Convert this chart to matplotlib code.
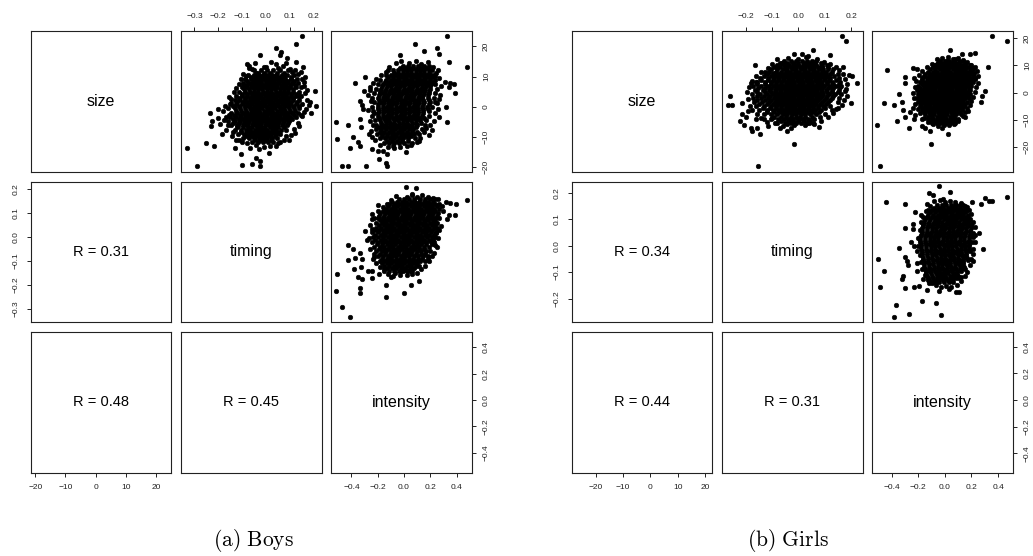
import matplotlib.pyplot as plt

plt.rcParams['font.family'] = ['Liberation Sans', 'DejaVu Sans']
plt.rcParams['mathtext.fontset'] = 'cm'

variables = ["size", "timing", "intensity"]

# R values shown in the lower panels: (timing,size), (intensity,size), (intensity,timing)
boys_corr = [0.31, 0.48, 0.45]
girls_corr = [0.34, 0.44, 0.31]

size_ticks = [-20, -10, 0, 10, 20]
boys_timing_ticks = [-0.3, -0.2, -0.1, 0.0, 0.1, 0.2]
girls_timing_ticks = [-0.2, -0.1, 0.0, 0.1, 0.2]
intensity_ticks = [-0.4, -0.2, 0.0, 0.2, 0.4]

# axis ranges
boys_lims = [(-21.5, 25.1), (-0.356, 0.233), (-0.552, 0.517)]
girls_lims = [(-28.9, 22.6), (-0.289, 0.242), (-0.545, 0.512)]

# ---------------- boys: timing (x) vs size (y) ----------------
boys_ts_edge = [(0.149,23.5),(0.124,20.7),(0.040,19.3),(0.063,18.0),(0.057,17.3),(-0.024,17.3),(0.127,14.9),
    (0.155,13.3),(-0.079,14.0),(-0.071,12.9),(0.205,5.1),(0.211,0.2),(0.180,0.4),(-0.146,2.4),(-0.148,1.1),
    (-0.202,-0.7),(-0.233,-2.2),(-0.225,-4.9),(-0.230,-6.5),(-0.191,-5.8),(-0.250,-12.2),(-0.216,-12.9),
    (-0.333,-13.8),(-0.291,-19.8),(-0.105,-15.8),(-0.099,-19.3),(-0.060,-19.1),(-0.024,-19.6),(-0.024,-18.0),
    (-0.043,-17.1),(0.013,-15.3),(-0.029,-14.2),(-0.066,-13.8),(-0.132,-13.6),(0.049,-12.0),(0.085,-9.8),
    (0.096,-10.9),(0.116,-7.3),(-0.169,-3.3),(-0.155,-2.9),(-0.166,-7.6),(-0.141,-9.6),(-0.113,-10.9),
    (-0.116,-6.5),(0.152,9.1),(0.160,6.9),(0.138,3.5),(0.152,-3.1),(0.133,-5.3),(0.110,-4.2),(0.166,-0.9),
    (-0.085,10.2),(-0.091,6.9),(-0.043,11.3),(0.001,13.3),(0.040,14.0),(0.085,14.4),(0.110,11.5),(0.133,10.7)]
boys_ts_halo = [(-0.07,13.6),(-0.045,14.5),(-0.01,13.2),(0.02,14.8),(0.05,12.9),(0.07,13.6),(0.1,12.6),
    (0.12,12.2),(0.145,11.6),(0.165,9.8),(0.16,8.2),(0.172,5.6),(0.162,4.4),(0.17,2.3),(0.185,1.6),(0.158,-1.8),
    (0.145,-2.6),(0.14,-6.4),(0.12,-8.6),(0.105,-9.4),(0.075,-11.2),(0.06,-11.8),(0.04,-13.0),(0.015,-13.2),
    (-0.01,-13.4),(-0.04,-12.6),(-0.08,-12.2),(-0.1,-11.8),(-0.125,-10.9),(-0.14,-8.4),(-0.16,-6.0),
    (-0.175,-4.4),(-0.18,-1.5),(-0.17,0.2),(-0.155,3.2),(-0.135,4.8),(-0.125,6.2),(-0.115,7.6),(-0.105,9.2),
    (-0.095,11.0),(-0.06,12.6),(-0.185,-9.0),(-0.2,-3.6),(0.19,-2.0),(0.09,16.0)]
boys_ts_core = [
    (12.0, [-0.05, -0.02, 0.005, 0.03, 0.06, 0.094]),
    (10.6, [-0.075, -0.05, -0.03, -0.012, 0.006, 0.024, 0.042, 0.065, 0.09, 0.118]),
    (9.2, [-0.09, -0.065, -0.045, -0.028, -0.01, 0.008, 0.026, 0.044, 0.062, 0.08, 0.105, 0.13]),
    (7.8, [-0.095, -0.072, -0.055, -0.037, -0.02, -0.002, 0.016, 0.034, 0.052, 0.07, 0.088, 0.11, 0.135]),
    (6.4, [-0.1, -0.078, -0.06, -0.042, -0.024, -0.006, 0.012, 0.03, 0.048, 0.066, 0.084, 0.102, 0.125, 0.148]),
    (5.0, [-0.112, -0.088, -0.068, -0.05, -0.032, -0.014, 0.004, 0.022, 0.04, 0.058, 0.076, 0.094, 0.115, 0.138]),
    (3.6, [-0.125, -0.1, -0.078, -0.06, -0.042, -0.024, -0.006, 0.012, 0.03, 0.048, 0.066, 0.084, 0.104, 0.126, 0.145]),
    (2.2, [-0.132, -0.108, -0.088, -0.068, -0.05, -0.032, -0.014, 0.004, 0.022, 0.04, 0.058, 0.076, 0.094, 0.115, 0.14]),
    (0.8, [-0.15, -0.125, -0.1, -0.08, -0.061, -0.043, -0.025, -0.007, 0.011, 0.029, 0.047, 0.065, 0.083, 0.102, 0.124, 0.15]),
    (-0.6, [-0.16, -0.132, -0.108, -0.088, -0.069, -0.051, -0.033, -0.015, 0.003, 0.021, 0.039, 0.057, 0.075, 0.095, 0.118, 0.14]),
    (-2.0, [-0.145, -0.12, -0.098, -0.078, -0.06, -0.042, -0.024, -0.006, 0.012, 0.03, 0.048, 0.066, 0.086, 0.108, 0.132]),
    (-3.4, [-0.15, -0.126, -0.104, -0.085, -0.066, -0.048, -0.03, -0.012, 0.006, 0.024, 0.042, 0.06, 0.08, 0.1, 0.125]),
    (-4.8, [-0.158, -0.13, -0.108, -0.088, -0.07, -0.052, -0.034, -0.016, 0.002, 0.02, 0.038, 0.056, 0.076, 0.098]),
    (-6.2, [-0.145, -0.12, -0.098, -0.078, -0.06, -0.042, -0.024, -0.006, 0.012, 0.03, 0.048, 0.068, 0.09]),
    (-7.6, [-0.13, -0.106, -0.085, -0.066, -0.048, -0.03, -0.012, 0.006, 0.024, 0.042, 0.062, 0.085]),
    (-9.0, [-0.118, -0.092, -0.07, -0.05, -0.032, -0.014, 0.004, 0.022, 0.04, 0.06]),
    (-10.4, [-0.095, -0.07, -0.05, -0.03, -0.012, 0.006, 0.026, 0.048]),
    (-11.8, [-0.06, -0.035, -0.012, 0.01, 0.03])]
boys_ts_inner = [
    (11.3, [-0.035, -0.008, 0.018, 0.045, 0.077]),
    (9.9, [-0.062, -0.04, -0.021, -0.003, 0.015, 0.033, 0.053, 0.077, 0.104]),
    (8.5, [-0.08, -0.055, -0.036, -0.019, -0.001, 0.017, 0.035, 0.053, 0.071, 0.092, 0.118]),
    (7.1, [-0.086, -0.064, -0.046, -0.028, -0.011, 0.007, 0.025, 0.043, 0.061, 0.079, 0.099, 0.122]),
    (5.7, [-0.094, -0.07, -0.051, -0.033, -0.015, 0.003, 0.021, 0.039, 0.057, 0.075, 0.093, 0.113]),
    (4.3, [-0.1, -0.078, -0.059, -0.041, -0.023, -0.005, 0.013, 0.031, 0.049, 0.067, 0.085, 0.105, 0.126]),
    (2.9, [-0.112, -0.089, -0.069, -0.051, -0.033, -0.015, 0.003, 0.021, 0.039, 0.057, 0.075, 0.094, 0.115]),
    (1.5, [-0.12, -0.098, -0.078, -0.059, -0.041, -0.023, -0.005, 0.013, 0.031, 0.049, 0.067, 0.085, 0.104, 0.128]),
    (0.1, [-0.138, -0.112, -0.09, -0.07, -0.052, -0.034, -0.016, 0.002, 0.02, 0.038, 0.056, 0.074, 0.092, 0.113, 0.137]),
    (-1.3, [-0.126, -0.103, -0.083, -0.064, -0.046, -0.028, -0.01, 0.008, 0.026, 0.044, 0.062, 0.08, 0.1, 0.122]),
    (-2.7, [-0.135, -0.11, -0.09, -0.071, -0.053, -0.035, -0.017, 0.001, 0.019, 0.037, 0.055, 0.074, 0.094, 0.116]),
    (-4.1, [-0.14, -0.115, -0.095, -0.076, -0.058, -0.04, -0.022, -0.004, 0.014, 0.032, 0.05, 0.068, 0.088]),
    (-5.5, [-0.138, -0.114, -0.093, -0.074, -0.056, -0.038, -0.02, -0.002, 0.016, 0.034, 0.052, 0.072, 0.094]),
    (-6.9, [-0.12, -0.096, -0.075, -0.057, -0.039, -0.021, -0.003, 0.015, 0.033, 0.052, 0.074]),
    (-8.3, [-0.105, -0.081, -0.06, -0.041, -0.023, -0.005, 0.013, 0.031, 0.05]),
    (-9.7, [-0.082, -0.06, -0.04, -0.021, -0.003, 0.016, 0.037]),
    (-11.1, [-0.048, -0.024, -0.001, 0.02])]

# ---------------- boys: intensity (x) vs size (y) ----------------
boys_is_edge = [(0.324,23.5),(0.085,20.7),(0.253,19.3),(0.268,17.5),(0.151,18.4),(-0.031,17.3),(0.339,14.9),
    (0.476,13.3),(-0.123,12.2),(-0.295,9.8),(-0.372,7.8),(-0.255,6.4),(-0.306,5.3),(0.314,8.2),(0.349,7.8),
    (0.380,7.5),(0.344,6.4),(0.390,4.7),(-0.336,2.0),(-0.321,0.7),(-0.311,-0.9),(-0.514,-5.1),(-0.422,-6.0),
    (-0.336,-4.0),(-0.326,-6.9),(-0.509,-10.7),(-0.387,-10.0),(-0.351,-11.6),(-0.331,-12.9),(-0.407,-13.8),
    (-0.473,-19.8),(-0.422,-19.6),(-0.285,-19.6),(-0.240,-14.0),(-0.189,-17.3),(-0.128,-15.8),(-0.133,-18.7),
    (-0.128,-19.6),(-0.072,-13.6),(0.014,-15.1),(0.111,-11.3),(0.187,-9.3),(0.217,-7.8),(0.324,-5.1),
    (0.268,-3.3),(0.319,-0.2),(0.248,1.1),(0.237,10.2),(0.247,11.3),(-0.250,1.8),(-0.230,-2.2),(-0.265,-9.1),
    (-0.235,-6.2)]
boys_is_halo = [(-0.06,14.6),(-0.02,15.2),(0.04,14.4),(0.09,15.0),(0.13,14.2),(0.18,14.8),(0.22,13.0),
    (0.26,12.2),(0.27,9.5),(0.285,6.8),(0.275,4.0),(0.265,2.6),(0.26,-0.8),(0.24,-2.0),(0.225,-4.6),(0.2,-6.0),
    (0.17,-7.2),(0.155,-8.4),(0.12,-10.5),(0.1,-11.6),(0.05,-12.8),(0.02,-13.2),(-0.03,-13.4),(-0.08,-13.1),
    (-0.12,-13.5),(-0.18,-12.6),(-0.22,-11.2),(-0.245,-10.2),(-0.25,-8.2),(-0.26,-4.6),(-0.27,-1.0),(-0.27,3.8),
    (-0.26,5.4),(-0.235,7.8),(-0.215,9.2),(-0.175,10.6),(-0.14,11.6),(-0.11,13.0),(-0.2,-14.6),(-0.16,-14.8)]
boys_is_core = [
    (13.5, [-0.01, 0.03, 0.07, 0.11, 0.15, 0.19]),
    (12.0, [-0.085, -0.045, -0.01, 0.022, 0.055, 0.088, 0.12, 0.155, 0.19, 0.215]),
    (10.5, [-0.135, -0.095, -0.06, -0.027, 0.006, 0.039, 0.072, 0.105, 0.138, 0.172, 0.205, 0.23]),
    (9.0, [-0.185, -0.14, -0.102, -0.068, -0.035, -0.002, 0.031, 0.064, 0.097, 0.13, 0.163, 0.196, 0.24]),
    (7.5, [-0.2, -0.16, -0.124, -0.09, -0.057, -0.024, 0.009, 0.042, 0.075, 0.108, 0.141, 0.174, 0.207, 0.24]),
    (6.0, [-0.212, -0.172, -0.136, -0.102, -0.069, -0.036, -0.003, 0.03, 0.063, 0.096, 0.129, 0.162, 0.198, 0.25]),
    (4.5, [-0.225, -0.185, -0.148, -0.114, -0.081, -0.048, -0.015, 0.018, 0.051, 0.084, 0.117, 0.15, 0.19, 0.24]),
    (3.0, [-0.24, -0.198, -0.16, -0.126, -0.093, -0.06, -0.027, 0.006, 0.039, 0.072, 0.105, 0.14, 0.18, 0.228]),
    (1.5, [-0.225, -0.185, -0.15, -0.116, -0.083, -0.05, -0.017, 0.016, 0.049, 0.082, 0.115, 0.152, 0.2, 0.24]),
    (0.0, [-0.24, -0.2, -0.163, -0.13, -0.097, -0.064, -0.031, 0.002, 0.035, 0.068, 0.101, 0.136, 0.175, 0.215]),
    (-1.5, [-0.235, -0.192, -0.155, -0.121, -0.088, -0.055, -0.022, 0.011, 0.044, 0.077, 0.11, 0.148, 0.19]),
    (-3.0, [-0.24, -0.2, -0.162, -0.128, -0.095, -0.062, -0.029, 0.004, 0.037, 0.07, 0.103, 0.14, 0.19]),
    (-4.5, [-0.22, -0.18, -0.144, -0.11, -0.077, -0.044, -0.011, 0.022, 0.055, 0.088, 0.125, 0.17]),
    (-6.0, [-0.21, -0.17, -0.134, -0.1, -0.067, -0.034, -0.001, 0.032, 0.065, 0.1, 0.16]),
    (-7.5, [-0.212, -0.172, -0.135, -0.1, -0.066, -0.032, 0.002, 0.036, 0.072, 0.14]),
    (-9.0, [-0.205, -0.165, -0.128, -0.094, -0.06, -0.026, 0.008, 0.042, 0.08, 0.115]),
    (-10.5, [-0.185, -0.145, -0.108, -0.074, -0.04, -0.006, 0.03, 0.085]),
    (-12.0, [-0.15, -0.11, -0.072, -0.036, 0.0, 0.06])]
boys_is_inner = [
    (12.75, [-0.03, 0.006, 0.04, 0.072, 0.105, 0.14, 0.17]),
    (11.25, [-0.078, -0.043, -0.01, 0.022, 0.055, 0.088, 0.121, 0.155, 0.19]),
    (9.75, [-0.12, -0.081, -0.048, -0.015, 0.018, 0.051, 0.084, 0.117, 0.15, 0.184, 0.215]),
    (8.25, [-0.142, -0.113, -0.079, -0.046, -0.013, 0.02, 0.053, 0.086, 0.119, 0.152, 0.185, 0.218]),
    (6.75, [-0.166, -0.13, -0.096, -0.063, -0.03, 0.003, 0.036, 0.069, 0.102, 0.135, 0.168, 0.2]),
    (5.25, [-0.18, -0.142, -0.108, -0.075, -0.042, -0.009, 0.024, 0.057, 0.09, 0.123, 0.156, 0.194]),
    (3.75, [-0.19, -0.154, -0.12, -0.087, -0.054, -0.021, 0.012, 0.045, 0.078, 0.111, 0.145, 0.185]),
    (2.25, [-0.19, -0.155, -0.121, -0.088, -0.055, -0.022, 0.011, 0.044, 0.077, 0.11, 0.146, 0.19]),
    (0.75, [-0.2, -0.157, -0.123, -0.09, -0.057, -0.024, 0.009, 0.042, 0.075, 0.108, 0.144, 0.187]),
    (-0.75, [-0.196, -0.159, -0.125, -0.092, -0.059, -0.026, 0.007, 0.04, 0.073, 0.106, 0.142, 0.18]),
    (-2.25, [-0.196, -0.158, -0.124, -0.091, -0.058, -0.025, 0.008, 0.041, 0.074, 0.107, 0.144]),
    (-3.75, [-0.19, -0.153, -0.119, -0.086, -0.053, -0.02, 0.013, 0.046, 0.079, 0.114, 0.155]),
    (-5.25, [-0.175, -0.139, -0.105, -0.072, -0.039, -0.006, 0.027, 0.06, 0.094, 0.13]),
    (-6.75, [-0.19, -0.152, -0.117, -0.083, -0.05, -0.016, 0.018, 0.054, 0.09]),
    (-8.25, [-0.185, -0.15, -0.115, -0.08, -0.046, -0.012, 0.022, 0.06, 0.1]),
    (-9.75, [-0.165, -0.126, -0.091, -0.057, -0.023, 0.012, 0.055]),
    (-11.25, [-0.128, -0.09, -0.054, -0.018, 0.03])]

# ---------------- boys: intensity (x) vs timing (y) ----------------
boys_it_edge = [(0.014,0.211),(0.090,0.206),(0.065,0.181),(0.476,0.155),(0.319,0.147),(0.349,0.144),(0.395,0.141),
    (0.339,0.091),(0.385,0.094),(0.324,0.077),(-0.240,0.097),(-0.245,0.075),(-0.163,0.066),(-0.097,0.102),
    (-0.295,0.024),(-0.245,0.036),(-0.422,-0.031),(-0.387,-0.051),(-0.336,-0.065),(-0.422,-0.096),(-0.372,-0.087),
    (-0.316,-0.093),(-0.326,-0.123),(-0.382,-0.132),(-0.270,-0.140),(-0.351,-0.168),(-0.321,-0.174),
    (-0.240,-0.143),(-0.245,-0.171),(-0.189,-0.154),(-0.153,-0.135),(-0.509,-0.154),(-0.514,-0.224),
    (-0.331,-0.213),(-0.336,-0.235),(-0.473,-0.291),(-0.407,-0.333),(-0.138,-0.199),(-0.133,-0.249),
    (0.004,-0.232),(0.055,-0.202),(0.116,-0.185),(-0.097,-0.168),(-0.087,-0.163),(-0.021,-0.143),(0.026,-0.140),
    (0.050,-0.143),(0.237,0.072),(0.247,0.019),(0.233,-0.031),(0.182,-0.087),(-0.229,-0.082),(-0.234,-0.093)]
boys_it_halo = [(-0.06,0.172),(0.02,0.17),(0.06,0.176),(0.1,0.168),(0.14,0.175),(0.18,0.17),(0.22,0.165),
    (0.26,0.16),(0.29,0.13),(0.3,0.11),(0.28,0.045),(0.27,0.03),(0.26,-0.005),(0.25,-0.04),(0.23,-0.065),
    (0.215,-0.08),(0.19,-0.1),(0.16,-0.12),(0.13,-0.135),(0.1,-0.15),(0.06,-0.155),(0.02,-0.16),(-0.03,-0.158),
    (-0.07,-0.15),(-0.12,-0.155),(-0.15,-0.14),(-0.18,-0.125),(-0.21,-0.11),(-0.23,-0.07),(-0.26,-0.05),
    (-0.265,-0.005),(-0.26,0.05),(-0.225,0.08),(-0.2,0.11),(-0.16,0.125),(-0.13,0.14),(-0.1,0.155),(-0.2,0.135),
    (-0.28,-0.01)]
boys_it_core = [
    (0.158, [-0.035, 0.0, 0.04, 0.08, 0.12, 0.16, 0.2, 0.24]),
    (0.139, [-0.11, -0.07, -0.034, 0.0, 0.033, 0.066, 0.099, 0.132, 0.165, 0.2, 0.24, 0.268]),
    (0.119, [-0.138, -0.1, -0.066, -0.033, 0.0, 0.033, 0.066, 0.099, 0.132, 0.165, 0.198, 0.232, 0.265]),
    (0.100, [-0.185, -0.145, -0.11, -0.077, -0.044, -0.011, 0.022, 0.055, 0.088, 0.121, 0.154, 0.187, 0.22, 0.26]),
    (0.080, [-0.2, -0.16, -0.124, -0.091, -0.058, -0.025, 0.008, 0.041, 0.074, 0.107, 0.14, 0.173, 0.206, 0.24, 0.268]),
    (0.060, [-0.21, -0.17, -0.134, -0.101, -0.068, -0.035, -0.002, 0.031, 0.064, 0.097, 0.13, 0.163, 0.196, 0.23, 0.255]),
    (0.040, [-0.214, -0.175, -0.14, -0.107, -0.074, -0.041, -0.008, 0.025, 0.058, 0.091, 0.124, 0.157, 0.19, 0.225, 0.255]),
    (0.020, [-0.24, -0.2, -0.162, -0.128, -0.095, -0.062, -0.029, 0.004, 0.037, 0.07, 0.103, 0.136, 0.169, 0.205, 0.243]),
    (0.000, [-0.235, -0.195, -0.158, -0.124, -0.091, -0.058, -0.025, 0.008, 0.041, 0.074, 0.107, 0.14, 0.175, 0.21, 0.24]),
    (-0.020, [-0.24, -0.2, -0.163, -0.129, -0.096, -0.063, -0.03, 0.003, 0.036, 0.069, 0.102, 0.135, 0.17, 0.205, 0.23]),
    (-0.040, [-0.225, -0.185, -0.149, -0.115, -0.082, -0.049, -0.016, 0.017, 0.05, 0.083, 0.116, 0.15, 0.19]),
    (-0.060, [-0.21, -0.17, -0.135, -0.102, -0.069, -0.036, -0.003, 0.03, 0.063, 0.096, 0.13, 0.17, 0.2]),
    (-0.080, [-0.2, -0.16, -0.124, -0.091, -0.058, -0.025, 0.008, 0.041, 0.074, 0.108, 0.145, 0.18]),
    (-0.100, [-0.185, -0.148, -0.113, -0.08, -0.047, -0.014, 0.019, 0.052, 0.085, 0.12, 0.16]),
    (-0.120, [-0.15, -0.112, -0.078, -0.045, -0.012, 0.021, 0.055, 0.09, 0.116]),
    (-0.140, [-0.11, -0.072, -0.038, -0.004, 0.03, 0.065])]
boys_it_inner = [
    (0.149, [-0.09, -0.052, -0.017, 0.017, 0.05, 0.083, 0.116, 0.15, 0.182, 0.22]),
    (0.129, [-0.12, -0.085, -0.05, -0.017, 0.017, 0.05, 0.083, 0.116, 0.149, 0.182, 0.215, 0.25]),
    (0.109, [-0.16, -0.122, -0.088, -0.055, -0.022, 0.011, 0.044, 0.077, 0.11, 0.143, 0.176, 0.21, 0.24]),
    (0.090, [-0.19, -0.152, -0.117, -0.084, -0.051, -0.018, 0.015, 0.048, 0.081, 0.114, 0.147, 0.18, 0.213, 0.25]),
    (0.070, [-0.185, -0.147, -0.113, -0.08, -0.047, -0.014, 0.019, 0.052, 0.085, 0.118, 0.151, 0.184, 0.218]),
    (0.050, [-0.192, -0.155, -0.121, -0.088, -0.055, -0.022, 0.011, 0.044, 0.077, 0.11, 0.143, 0.176, 0.21, 0.24]),
    (0.030, [-0.22, -0.188, -0.151, -0.118, -0.085, -0.052, -0.019, 0.014, 0.047, 0.08, 0.113, 0.146, 0.18, 0.215]),
    (0.010, [-0.218, -0.178, -0.142, -0.109, -0.076, -0.043, -0.01, 0.023, 0.056, 0.089, 0.122, 0.157, 0.19, 0.225]),
    (-0.010, [-0.218, -0.178, -0.142, -0.109, -0.076, -0.043, -0.01, 0.023, 0.056, 0.089, 0.122, 0.155, 0.19, 0.218]),
    (-0.030, [-0.205, -0.168, -0.132, -0.098, -0.065, -0.032, 0.001, 0.034, 0.067, 0.1, 0.133, 0.17, 0.21]),
    (-0.050, [-0.19, -0.152, -0.118, -0.085, -0.052, -0.019, 0.014, 0.047, 0.08, 0.113, 0.15]),
    (-0.070, [-0.18, -0.142, -0.108, -0.075, -0.042, -0.009, 0.024, 0.057, 0.091, 0.126, 0.16]),
    (-0.090, [-0.166, -0.13, -0.096, -0.063, -0.03, 0.003, 0.036, 0.07, 0.104, 0.14]),
    (-0.110, [-0.165, -0.13, -0.095, -0.062, -0.029, 0.004, 0.037, 0.072, 0.1]),
    (-0.130, [-0.13, -0.093, -0.06, -0.025, 0.01, 0.045, 0.08])]

# ---------------- girls: timing (x) vs size (y) ----------------
girls_ts_edge = [(0.164,20.8),(0.181,18.8),(0.056,15.6),(-0.017,14.2),(0.013,14.2),(0.036,13.4),(0.119,13.9),
    (-0.165,10.0),(-0.062,11.0),(-0.095,7.3),(-0.125,7.6),(0.169,9.3),(0.191,6.3),(0.201,6.1),(0.221,3.7),
    (0.176,0.5),(-0.175,4.1),(-0.162,3.9),(-0.260,-1.2),(-0.268,-4.7),(-0.253,-4.7),(-0.212,-3.7),(-0.212,-7.8),
    (-0.222,-10.5),(-0.205,-12.0),(-0.180,-13.0),(-0.177,-14.2),(-0.157,-13.0),(-0.145,-15.2),(-0.160,-9.5),
    (-0.132,-9.8),(-0.069,-13.0),(-0.059,-12.2),(-0.027,-13.0),(-0.042,-14.2),(-0.017,-18.8),(-0.152,-26.9),
    (0.076,-12.7),(0.081,-9.1),(0.149,-5.6),(0.197,-3.7),(0.156,1.9),(0.001,-9.8),(0.038,-11.0),(-0.100,-9.3),
    (-0.114,-12.2)]
girls_ts_halo = [(-0.08,12.2),(-0.04,12.8),(0.0,12.3),(0.03,13.0),(0.07,12.2),(0.095,11.4),(0.12,10.4),
    (0.14,9.4),(0.155,8.2),(0.168,6.8),(0.175,5.0),(0.182,3.0),(0.178,1.2),(0.185,-1.2),(0.172,-2.8),(0.165,-4.4),
    (0.14,-6.0),(0.13,-7.6),(0.11,-8.8),(0.085,-10.4),(0.06,-11.4),(0.025,-12.0),(-0.015,-11.8),(-0.045,-11.6),
    (-0.09,-11.2),(-0.12,-10.6),(-0.14,-9.2),(-0.158,-8.0),(-0.175,-6.4),(-0.185,-4.8),(-0.19,-2.4),(-0.195,0.2),
    (-0.188,2.0),(-0.18,3.4),(-0.16,6.0),(-0.14,7.4),(-0.115,9.0),(-0.1,10.4),(-0.19,-6.8),(-0.2,-9.0)]
girls_ts_core = [
    (11.5, [-0.055, -0.03, -0.008, 0.012, 0.032, 0.052, 0.068]),
    (10.0, [-0.08, -0.055, -0.035, -0.017, 0.0, 0.017, 0.034, 0.051, 0.068, 0.088, 0.106]),
    (8.5, [-0.105, -0.08, -0.06, -0.042, -0.025, -0.008, 0.009, 0.026, 0.043, 0.06, 0.077, 0.094, 0.112, 0.131]),
    (7.0, [-0.118, -0.092, -0.072, -0.054, -0.037, -0.02, -0.003, 0.014, 0.031, 0.048, 0.065, 0.082, 0.099, 0.118, 0.15]),
    (5.5, [-0.145, -0.115, -0.092, -0.072, -0.054, -0.037, -0.02, -0.003, 0.014, 0.031, 0.048, 0.065, 0.082, 0.1, 0.12, 0.155]),
    (4.0, [-0.155, -0.128, -0.105, -0.085, -0.066, -0.049, -0.032, -0.015, 0.002, 0.019, 0.036, 0.053, 0.07, 0.087, 0.106, 0.128, 0.156]),
    (2.5, [-0.17, -0.14, -0.115, -0.094, -0.075, -0.057, -0.04, -0.023, -0.006, 0.011, 0.028, 0.045, 0.062, 0.079, 0.097, 0.118, 0.14, 0.162]),
    (1.0, [-0.165, -0.135, -0.11, -0.089, -0.07, -0.052, -0.035, -0.018, -0.001, 0.016, 0.033, 0.05, 0.067, 0.084, 0.103, 0.125, 0.155]),
    (-0.5, [-0.175, -0.145, -0.12, -0.098, -0.078, -0.06, -0.043, -0.026, -0.009, 0.008, 0.025, 0.042, 0.059, 0.076, 0.094, 0.114, 0.137, 0.162]),
    (-2.0, [-0.17, -0.14, -0.114, -0.092, -0.072, -0.054, -0.037, -0.02, -0.003, 0.014, 0.031, 0.048, 0.065, 0.083, 0.103, 0.127, 0.155]),
    (-3.5, [-0.168, -0.138, -0.112, -0.09, -0.07, -0.052, -0.035, -0.018, -0.001, 0.016, 0.033, 0.05, 0.068, 0.088, 0.11, 0.15]),
    (-5.0, [-0.16, -0.13, -0.105, -0.084, -0.065, -0.047, -0.03, -0.013, 0.004, 0.021, 0.038, 0.055, 0.073, 0.094, 0.12]),
    (-6.5, [-0.15, -0.12, -0.096, -0.076, -0.058, -0.04, -0.023, -0.006, 0.011, 0.028, 0.045, 0.063, 0.085, 0.125]),
    (-8.0, [-0.13, -0.102, -0.08, -0.06, -0.042, -0.025, -0.008, 0.009, 0.026, 0.044, 0.065, 0.1]),
    (-9.5, [-0.105, -0.078, -0.056, -0.037, -0.019, -0.002, 0.016, 0.035, 0.06]),
    (-11.0, [-0.08, -0.052, -0.03, -0.01, 0.01, 0.032, 0.055])]
girls_ts_inner = [
    (10.75, [-0.068, -0.045, -0.022, 0.0, 0.022, 0.042, 0.06, 0.085]),
    (9.25, [-0.092, -0.068, -0.047, -0.029, -0.012, 0.005, 0.022, 0.039, 0.056, 0.073, 0.09, 0.11]),
    (7.75, [-0.11, -0.086, -0.066, -0.048, -0.031, -0.014, 0.003, 0.02, 0.037, 0.054, 0.071, 0.088, 0.105, 0.125]),
    (6.25, [-0.13, -0.104, -0.082, -0.063, -0.046, -0.029, -0.012, 0.005, 0.022, 0.039, 0.056, 0.073, 0.09, 0.109, 0.135]),
    (4.75, [-0.14, -0.116, -0.095, -0.076, -0.058, -0.041, -0.024, -0.007, 0.01, 0.027, 0.044, 0.061, 0.078, 0.096, 0.116, 0.14]),
    (3.25, [-0.155, -0.128, -0.105, -0.085, -0.066, -0.049, -0.032, -0.015, 0.002, 0.019, 0.036, 0.053, 0.07, 0.088, 0.107, 0.129, 0.152]),
    (1.75, [-0.152, -0.125, -0.102, -0.082, -0.063, -0.046, -0.029, -0.012, 0.005, 0.022, 0.039, 0.056, 0.073, 0.09, 0.11, 0.13]),
    (0.25, [-0.155, -0.128, -0.105, -0.085, -0.066, -0.049, -0.032, -0.015, 0.002, 0.019, 0.036, 0.053, 0.07, 0.088, 0.106, 0.128, 0.15]),
    (-1.25, [-0.158, -0.13, -0.106, -0.085, -0.066, -0.049, -0.032, -0.015, 0.002, 0.019, 0.036, 0.053, 0.07, 0.088, 0.108, 0.132]),
    (-2.75, [-0.155, -0.126, -0.102, -0.081, -0.062, -0.045, -0.028, -0.011, 0.006, 0.023, 0.04, 0.057, 0.075, 0.095, 0.118]),
    (-4.25, [-0.148, -0.12, -0.096, -0.076, -0.057, -0.04, -0.023, -0.006, 0.011, 0.028, 0.045, 0.062, 0.082, 0.104]),
    (-5.75, [-0.135, -0.108, -0.086, -0.067, -0.049, -0.032, -0.015, 0.002, 0.019, 0.036, 0.054, 0.074, 0.1]),
    (-7.25, [-0.118, -0.092, -0.07, -0.051, -0.033, -0.016, 0.001, 0.018, 0.035, 0.054, 0.078]),
    (-8.75, [-0.092, -0.067, -0.046, -0.028, -0.01, 0.007, 0.025, 0.05]),
    (-10.25, [-0.065, -0.041, -0.02, 0.0, 0.021, 0.044])]

# ---------------- girls: intensity (x) vs size (y) ----------------
girls_is_edge = [(0.355,20.8),(0.470,18.8),(-0.488,-26.9),(-0.438,8.3),(0.039,15.6),(0.129,14.2),(0.189,14.2),
    (0.229,14.7),(-0.062,10.5),(0.019,11.5),(0.325,9.3),(-0.242,9.0),(-0.207,8.6),(-0.302,5.6),(-0.297,3.7),
    (-0.232,5.4),(-0.348,-0.5),(-0.458,-3.9),(-0.383,-4.7),(-0.322,-3.4),(-0.508,-12.0),(-0.363,-10.5),
    (-0.312,-6.4),(-0.302,-8.8),(-0.272,-13.0),(-0.232,-9.6),(-0.172,-12.2),(-0.147,-13.0),(-0.112,-14.2),
    (-0.102,-18.8),(-0.022,-13.0),(0.024,-15.2),(0.064,-9.6),(0.154,-9.1),(0.174,-6.9),(0.270,-3.4),(0.280,-1.2),
    (0.300,0.5),(0.229,5.1),(0.219,7.3),(0.079,12.5),(-0.242,-5.6),(-0.222,-8.1),(-0.172,-9.8)]
girls_is_halo = [(-0.06,12.2),(-0.02,12.6),(0.02,13.0),(0.06,12.3),(0.1,12.8),(0.14,12.0),(0.17,11.2),
    (0.2,10.2),(0.225,9.4),(0.24,7.8),(0.25,6.0),(0.248,3.6),(0.235,2.2),(0.225,0.2),(0.215,-1.6),(0.2,-3.0),
    (0.19,-4.6),(0.17,-5.8),(0.155,-7.2),(0.14,-8.4),(0.1,-10.4),(0.07,-11.4),(0.03,-12.0),(-0.01,-11.8),
    (-0.05,-12.2),(-0.09,-11.6),(-0.13,-10.8),(-0.16,-9.4),(-0.19,-7.6),(-0.205,-6.0),(-0.225,-4.2),(-0.23,-2.0),
    (-0.24,0.0),(-0.225,2.2),(-0.215,4.4),(-0.195,6.6),(-0.17,8.0),(-0.135,9.4),(-0.1,10.6),(-0.26,-7.0)]
girls_is_core = [
    (11.5, [-0.035, 0.0, 0.035, 0.07, 0.105, 0.139]),
    (10.0, [-0.074, -0.038, -0.005, 0.027, 0.059, 0.091, 0.123, 0.155, 0.189]),
    (8.5, [-0.11, -0.072, -0.038, -0.006, 0.026, 0.058, 0.09, 0.122, 0.154, 0.186, 0.214]),
    (7.0, [-0.148, -0.108, -0.073, -0.04, -0.008, 0.024, 0.056, 0.088, 0.12, 0.152, 0.184, 0.214]),
    (5.5, [-0.175, -0.135, -0.1, -0.067, -0.035, -0.003, 0.029, 0.061, 0.093, 0.125, 0.157, 0.19, 0.227]),
    (4.0, [-0.187, -0.148, -0.113, -0.08, -0.048, -0.016, 0.016, 0.048, 0.08, 0.112, 0.144, 0.176, 0.21]),
    (2.5, [-0.2, -0.16, -0.124, -0.091, -0.059, -0.027, 0.005, 0.037, 0.069, 0.101, 0.133, 0.166, 0.2]),
    (1.0, [-0.212, -0.172, -0.136, -0.103, -0.071, -0.039, -0.007, 0.025, 0.057, 0.089, 0.121, 0.154, 0.19]),
    (-0.5, [-0.2, -0.162, -0.127, -0.094, -0.062, -0.03, 0.002, 0.034, 0.066, 0.098, 0.13, 0.163, 0.189]),
    (-2.0, [-0.212, -0.174, -0.139, -0.106, -0.074, -0.042, -0.01, 0.022, 0.054, 0.086, 0.118, 0.15, 0.18]),
    (-3.5, [-0.2, -0.162, -0.127, -0.094, -0.062, -0.03, 0.002, 0.034, 0.066, 0.098, 0.13, 0.164]),
    (-5.0, [-0.19, -0.152, -0.117, -0.084, -0.052, -0.02, 0.012, 0.044, 0.076, 0.108, 0.145]),
    (-6.5, [-0.175, -0.138, -0.104, -0.071, -0.039, -0.007, 0.025, 0.057, 0.09, 0.13]),
    (-8.0, [-0.149, -0.112, -0.078, -0.045, -0.013, 0.019, 0.051, 0.084, 0.12]),
    (-9.5, [-0.124, -0.088, -0.054, -0.021, 0.011, 0.043, 0.075, 0.1]),
    (-11.0, [-0.099, -0.062, -0.028, 0.005, 0.04, 0.076])]
girls_is_inner = [
    (10.75, [-0.055, -0.02, 0.012, 0.045, 0.078, 0.11, 0.15]),
    (9.25, [-0.092, -0.055, -0.022, 0.01, 0.042, 0.074, 0.106, 0.138, 0.17, 0.2]),
    (7.75, [-0.128, -0.09, -0.056, -0.023, 0.009, 0.041, 0.073, 0.105, 0.137, 0.169, 0.2]),
    (6.25, [-0.16, -0.12, -0.086, -0.053, -0.021, 0.011, 0.043, 0.075, 0.107, 0.139, 0.172, 0.21]),
    (4.75, [-0.17, -0.13, -0.095, -0.063, -0.031, 0.001, 0.033, 0.065, 0.097, 0.129, 0.161, 0.195]),
    (3.25, [-0.175, -0.136, -0.102, -0.069, -0.037, -0.005, 0.027, 0.059, 0.091, 0.123, 0.155, 0.19]),
    (1.75, [-0.185, -0.146, -0.112, -0.079, -0.047, -0.015, 0.017, 0.049, 0.081, 0.113, 0.145, 0.178]),
    (0.25, [-0.19, -0.15, -0.115, -0.082, -0.05, -0.018, 0.014, 0.046, 0.078, 0.11, 0.143, 0.175]),
    (-1.25, [-0.19, -0.152, -0.118, -0.085, -0.053, -0.021, 0.011, 0.043, 0.075, 0.107, 0.14, 0.17]),
    (-2.75, [-0.19, -0.152, -0.118, -0.085, -0.053, -0.021, 0.011, 0.043, 0.075, 0.107, 0.14]),
    (-4.25, [-0.18, -0.142, -0.108, -0.075, -0.043, -0.011, 0.021, 0.053, 0.085, 0.12, 0.15]),
    (-5.75, [-0.165, -0.128, -0.094, -0.061, -0.029, 0.003, 0.035, 0.067, 0.1, 0.13]),
    (-7.25, [-0.155, -0.12, -0.086, -0.053, -0.021, 0.011, 0.043, 0.075, 0.11]),
    (-8.75, [-0.13, -0.095, -0.061, -0.028, 0.004, 0.036, 0.07]),
    (-10.25, [-0.11, -0.075, -0.04, -0.008, 0.025, 0.06])]

# ---------------- girls: intensity (x) vs timing (y) ----------------
girls_it_edge = [(-0.042,0.225),(-0.122,0.200),(-0.087,0.192),(0.039,0.203),(0.470,0.185),(0.299,0.180),
    (0.330,0.170),(0.355,0.167),(-0.443,0.164),(-0.303,0.157),(0.204,0.164),(0.269,0.157),(-0.132,0.157),
    (-0.127,0.134),(-0.222,0.126),(-0.177,0.116),(-0.237,0.081),(-0.237,0.063),(-0.303,0.065),(0.254,0.048),
    (0.284,-0.011),(-0.348,-0.008),(-0.252,0.012),(-0.232,-0.003),(-0.503,-0.052),(-0.458,-0.095),(-0.303,-0.044),
    (-0.287,-0.057),(-0.277,-0.075),(-0.212,-0.064),(-0.212,-0.095),(-0.312,-0.115),(-0.323,-0.125),
    (-0.303,-0.161),(-0.488,-0.156),(-0.232,-0.156),(-0.192,-0.153),(-0.162,-0.125),(-0.122,-0.143),
    (-0.132,-0.166),(-0.172,-0.211),(-0.067,-0.216),(-0.368,-0.224),(-0.383,-0.270),(-0.267,-0.257),
    (-0.032,-0.262),(-0.042,-0.173),(0.029,-0.163),(0.084,-0.176),(0.109,-0.176),(0.119,-0.118),(0.214,-0.059),
    (0.209,-0.014),(0.189,0.101),(0.149,0.103),(-0.012,0.177),(0.084,0.152),(0.164,0.147)]
girls_it_halo = [(-0.08,0.168),(-0.04,0.172),(0.0,0.165),(0.04,0.17),(0.08,0.165),(0.12,0.162),(0.155,0.15),
    (0.18,0.135),(0.2,0.118),(0.215,0.09),(0.225,0.07),(0.23,0.04),(0.228,0.012),(0.215,-0.03),(0.2,-0.05),
    (0.19,-0.075),(0.17,-0.1),(0.15,-0.115),(0.12,-0.135),(0.09,-0.15),(0.05,-0.155),(0.01,-0.152),
    (-0.03,-0.155),(-0.07,-0.15),(-0.1,-0.14),(-0.13,-0.13),(-0.15,-0.11),(-0.17,-0.09),(-0.18,-0.06),
    (-0.19,-0.035),(-0.205,0.0),(-0.2,0.03),(-0.19,0.06),(-0.18,0.09),(-0.165,0.11),(-0.14,0.13),(-0.11,0.15),
    (-0.21,-0.02)]
girls_it_core = [
    (0.152, [-0.06, -0.025, 0.01, 0.045, 0.08, 0.115, 0.139]),
    (0.134, [-0.099, -0.062, -0.028, 0.004, 0.036, 0.068, 0.1, 0.132, 0.165]),
    (0.117, [-0.124, -0.086, -0.052, -0.02, 0.012, 0.044, 0.076, 0.108, 0.14, 0.175]),
    (0.100, [-0.15, -0.11, -0.075, -0.042, -0.01, 0.022, 0.054, 0.086, 0.118, 0.15, 0.185]),
    (0.083, [-0.162, -0.124, -0.089, -0.056, -0.024, 0.008, 0.04, 0.072, 0.104, 0.136, 0.168, 0.2]),
    (0.066, [-0.17, -0.132, -0.097, -0.064, -0.032, 0.0, 0.032, 0.064, 0.096, 0.128, 0.16, 0.195]),
    (0.049, [-0.175, -0.137, -0.102, -0.069, -0.037, -0.005, 0.027, 0.059, 0.091, 0.123, 0.155, 0.188, 0.214]),
    (0.032, [-0.187, -0.148, -0.113, -0.08, -0.048, -0.016, 0.016, 0.048, 0.08, 0.112, 0.144, 0.178, 0.21]),
    (0.015, [-0.187, -0.15, -0.115, -0.082, -0.05, -0.018, 0.014, 0.046, 0.078, 0.11, 0.142, 0.175, 0.202]),
    (-0.002, [-0.18, -0.142, -0.107, -0.074, -0.042, -0.01, 0.022, 0.054, 0.086, 0.118, 0.15, 0.185]),
    (-0.019, [-0.175, -0.137, -0.102, -0.069, -0.037, -0.005, 0.027, 0.059, 0.091, 0.123, 0.157, 0.189]),
    (-0.036, [-0.17, -0.132, -0.097, -0.064, -0.032, 0.0, 0.032, 0.064, 0.096, 0.128, 0.162]),
    (-0.053, [-0.162, -0.124, -0.089, -0.056, -0.024, 0.008, 0.04, 0.072, 0.104, 0.138, 0.177]),
    (-0.070, [-0.16, -0.122, -0.087, -0.054, -0.022, 0.01, 0.042, 0.074, 0.106, 0.14]),
    (-0.087, [-0.149, -0.112, -0.078, -0.045, -0.013, 0.019, 0.051, 0.083, 0.118, 0.152]),
    (-0.104, [-0.14, -0.104, -0.07, -0.037, -0.005, 0.027, 0.06, 0.095]),
    (-0.121, [-0.124, -0.088, -0.054, -0.021, 0.011, 0.045, 0.08, 0.101]),
    (-0.138, [-0.112, -0.076, -0.042, -0.008, 0.028, 0.06])]
girls_it_inner = [
    (0.143, [-0.08, -0.045, -0.012, 0.02, 0.052, 0.084, 0.116, 0.15]),
    (0.126, [-0.11, -0.074, -0.04, -0.008, 0.024, 0.056, 0.088, 0.12, 0.152]),
    (0.108, [-0.136, -0.098, -0.064, -0.032, 0.0, 0.032, 0.064, 0.096, 0.128, 0.16]),
    (0.091, [-0.155, -0.117, -0.083, -0.05, -0.018, 0.014, 0.046, 0.078, 0.11, 0.142, 0.175]),
    (0.074, [-0.166, -0.128, -0.093, -0.06, -0.028, 0.004, 0.036, 0.068, 0.1, 0.132, 0.165, 0.195]),
    (0.057, [-0.172, -0.134, -0.1, -0.067, -0.035, -0.003, 0.029, 0.061, 0.093, 0.125, 0.158, 0.19]),
    (0.040, [-0.18, -0.142, -0.108, -0.075, -0.043, -0.011, 0.021, 0.053, 0.085, 0.117, 0.15, 0.19]),
    (0.023, [-0.185, -0.148, -0.114, -0.081, -0.049, -0.017, 0.015, 0.047, 0.079, 0.111, 0.143, 0.18]),
    (0.006, [-0.182, -0.145, -0.111, -0.078, -0.046, -0.014, 0.018, 0.05, 0.082, 0.114, 0.146, 0.18]),
    (-0.011, [-0.178, -0.14, -0.105, -0.072, -0.04, -0.008, 0.024, 0.056, 0.088, 0.12, 0.153, 0.185]),
    (-0.028, [-0.172, -0.134, -0.1, -0.067, -0.035, -0.003, 0.029, 0.061, 0.093, 0.125, 0.16]),
    (-0.045, [-0.166, -0.128, -0.093, -0.06, -0.028, 0.004, 0.036, 0.068, 0.1, 0.133, 0.165]),
    (-0.062, [-0.16, -0.123, -0.088, -0.055, -0.023, 0.009, 0.041, 0.073, 0.105, 0.138]),
    (-0.079, [-0.155, -0.117, -0.083, -0.05, -0.018, 0.014, 0.046, 0.078, 0.112, 0.145]),
    (-0.096, [-0.144, -0.108, -0.074, -0.041, -0.009, 0.023, 0.055, 0.088, 0.12]),
    (-0.113, [-0.132, -0.096, -0.062, -0.029, 0.003, 0.036, 0.07, 0.098]),
    (-0.130, [-0.118, -0.082, -0.048, -0.015, 0.02, 0.055])]


def points(edge, halo, *row_sets):
    xs = [p[0] for p in edge + halo]
    ys = [p[1] for p in edge + halo]
    for rows in row_sets:
        for y, row in rows:
            xs += row
            ys += [y] * len(row)
    return xs, ys


def fmt(v, d):
    return f"{v:.{d}f}".replace("-", "\u2212")


W, H = 1033, 556
PS = 140.5                      # panel size in pixels
TOPS = [31, 181.6, 332]
fig = plt.figure(figsize=(W / 100, H / 100), dpi=100)


def draw_group(lefts, lims, ticks, decimals, corr, scatters, caption, cap_x):
    corr_at = {(1, 0): corr[0], (2, 0): corr[1], (2, 1): corr[2]}
    for i in range(3):
        for j in range(3):
            ax = fig.add_axes([lefts[j] / W, 1 - (TOPS[i] + PS) / H, PS / W, PS / H])
            ax.set_xlim(lims[j])
            ax.set_ylim(lims[i])
            for sp in ax.spines.values():
                sp.set_linewidth(0.8)
                sp.set_color('#222222')
            ax.tick_params(bottom=False, top=False, left=False, right=False,
                           labelbottom=False, labeltop=False, labelleft=False, labelright=False,
                           length=3, width=0.7, labelsize=6, pad=5, colors='#222222')
            ax.set_xticks(ticks[j])
            ax.set_xticklabels([fmt(v, decimals[j]) for v in ticks[j]])
            ax.set_yticks(ticks[i])
            ax.set_yticklabels([fmt(v, decimals[i]) for v in ticks[i]], rotation=90, va='center')
            if i == 0 and j % 2 == 1:
                ax.tick_params(top=True, labeltop=True)
            if i == 2 and j % 2 == 0:
                ax.tick_params(bottom=True, labelbottom=True)
            if j == 0 and i % 2 == 1:
                ax.tick_params(left=True, labelleft=True)
            if j == 2 and i % 2 == 0:
                ax.tick_params(right=True, labelright=True)

            if i == j:
                ax.text(0.5, 0.5, variables[i], transform=ax.transAxes,
                        ha='center', va='center', fontsize=11.5)
            elif i > j:
                ax.text(0.5, 0.5, f"R = {corr_at[(i, j)]:.2f}", transform=ax.transAxes,
                        ha='center', va='center', fontsize=10.5)
            else:
                xs, ys = scatters[(i, j)]
                ax.scatter(xs, ys, s=11, c='black', edgecolors='black', linewidths=0.4)
    fig.text(cap_x / W, 1 - 540 / H, caption, ha='center', va='center', fontsize=15.5)


draw_group([30.7, 181.1, 331.4], boys_lims,
           [size_ticks, boys_timing_ticks, intensity_ticks], [0, 1, 1], boys_corr,
           {(0, 1): points(boys_ts_edge, boys_ts_halo, boys_ts_core, boys_ts_inner),
            (0, 2): points(boys_is_edge, boys_is_halo, boys_is_core, boys_is_inner),
            (1, 2): points(boys_it_edge, boys_it_halo, boys_it_core, boys_it_inner)},
           r'$\mathrm{(a)\ Boys}$', 253)

draw_group([571.6, 722.0, 872.4], girls_lims,
           [size_ticks, girls_timing_ticks, intensity_ticks], [0, 1, 1], girls_corr,
           {(0, 1): points(girls_ts_edge, girls_ts_halo, girls_ts_core, girls_ts_inner),
            (0, 2): points(girls_is_edge, girls_is_halo, girls_is_core, girls_is_inner),
            (1, 2): points(girls_it_edge, girls_it_halo, girls_it_core, girls_it_inner)},
           r'$\mathrm{(b)\ Girls}$', 788)

fig.savefig("out.png", dpi=100)
